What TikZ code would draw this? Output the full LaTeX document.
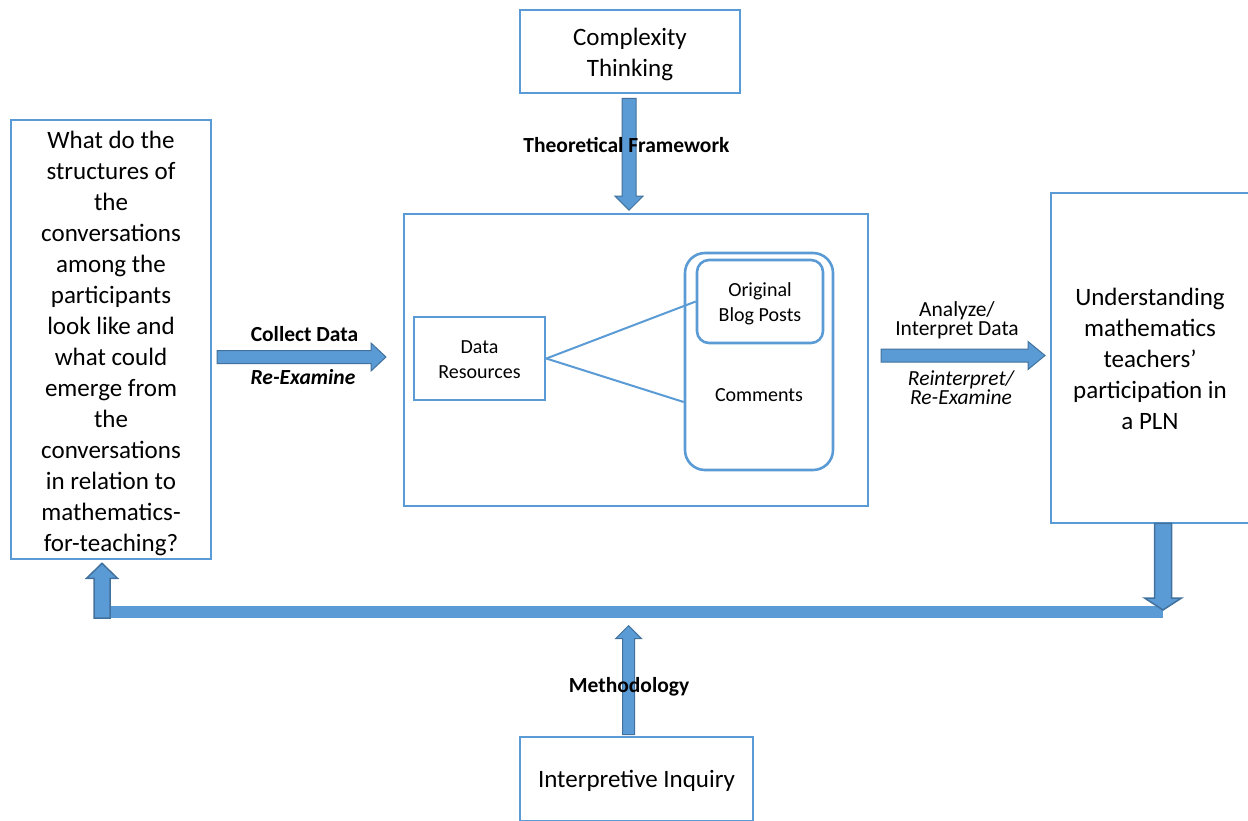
\documentclass[tikz,border=0pt]{standalone}
\usepackage{fontspec}
\setmainfont{Carlito}
\usetikzlibrary{calc}

\definecolor{boxblue}{HTML}{5B9BD5}
\definecolor{arrowedge}{HTML}{41719C}

\tikzset{
  frame/.style={draw=boxblue, line width=2.6pt, inner sep=0pt},
  bigtext/.style={font=\fontsize{25}{31}\selectfont, align=center, inner sep=0pt},
  smalltext/.style={font=\fontsize{20}{24.5}\selectfont, align=center, inner sep=0pt},
  tag/.style={font=\fontsize{21.5}{19}\selectfont, align=center, inner sep=0pt},
  tagbold/.style={tag, font=\fontsize{21.5}{17.5}\selectfont\bfseries},
  tagital/.style={tag, font=\fontsize{21.5}{18}\selectfont\itshape},
  tagboldital/.style={tag, font=\fontsize{21.5}{17.5}\selectfont\bfseries\itshape},
  link/.style={draw=boxblue, line width=2pt},
  barrow/.style={fill=boxblue, draw=arrowedge, line width=1pt, line join=miter},
}

% block arrow: [style]{from}{to}{shaft half width}{head half width}{head length}
\newcommand\blockarrow[6][]{%
  \filldraw[barrow,#1] let \p1=(#2), \p2=(#3),
    \n1={veclen(\x2-\x1,\y2-\y1)}, \n2={atan2(\y2-\y1,\x2-\x1)} in
    [shift={(\p1)}, rotate=\n2]
    (0pt,-#4pt) -- (\n1-#6pt,-#4pt) -- (\n1-#6pt,-#5pt) -- (\n1,0pt)
    -- (\n1-#6pt,#5pt) -- (\n1-#6pt,#4pt) -- (0pt,#4pt) -- cycle;}

\begin{document}
\begin{tikzpicture}[x=1pt,y=-1pt]
\useasboundingbox (0,0) rectangle (1248,820);
\clip (0,0) rectangle (1248,820);

% frames
\node[frame, minimum width=220pt, minimum height=83pt] (ct) at (630,51.5) {};
\node[frame, minimum width=200pt, minimum height=439pt] (rq) at (111,339.5) {};
\node[frame, minimum width=198pt, minimum height=330pt] (un) at (1150,358) {};
\node[frame, minimum width=464pt, minimum height=292pt] (data) at (636,360) {};
\node[frame, minimum width=131pt, minimum height=83pt] (dr) at (479.5,358.5) {};
\node[frame, rounded corners=20pt, minimum width=148pt, minimum height=217pt] (blog) at (759,361.5) {};
\node[frame, rounded corners=12pt, minimum width=126pt, minimum height=83pt] (orig) at (760,301.5) {};
\node[frame, minimum width=233pt, minimum height=84pt] (ii) at (636.5,779) {};

% texts inside the frames
\node[bigtext] (ct-t) at ($(ct.center)+(0,3)$) {Complexity\\Thinking};
\node[bigtext] (rq-t) at ($(rq.center)+(0,3.5)$)
  {What do the\\structures of\\the\\conversations\\among the\\participants\\look like and\\what could\\emerge from\\the\\conversations\\in relation to\\mathematics-\\for-teaching?};
\node[bigtext] (un-t) at ($(un.center)+(0,1)$)
  {Understanding\\mathematics\\teachers'\\participation in\\a PLN};
\node[smalltext] (dr-t) at ($(dr.center)+(0,1)$) {Data\\Resources};
\node[smalltext] (orig-t) at ($(orig.center)+(0,2.5)$) {Original\\Blog Posts};
\node[smalltext] (com) at (759,395) {Comments};
\node[bigtext] (ii-t) at ($(ii.center)+(0,2)$) {Interpretive Inquiry};

% links from the data resources
\draw[link] (dr.east) -- (orig.west);
\draw[link] (dr.east) -- ($(blog.west)+(0,40.5)$);

% guide points for the arrows
\coordinate (tf) at (629,0);
\coordinate (me) at (628.5,0);
\coordinate (cd-s) at (217,357);
\coordinate (cd-e) at (386,357);
\coordinate (ai-s) at (881,355.5);
\coordinate (ai-e) at (1045,355.5);
\coordinate (loop-r) at (1163,612);
\coordinate (loop-l) at (102,612);

% framework and methodology arrows
\blockarrow{$(ct.south -| tf)+(0,4)$}{$(data.north -| tf)+(0,-2.5)$}{7}{14}{14}
\blockarrow{$(ii.north -| me)+(0,-1)$}{$(ii.north -| me)+(0,-110)$}{6}{13}{13}

% horizontal arrows
\blockarrow{cd-s}{cd-e}{6.5}{14}{15}
\blockarrow{ai-s}{ai-e}{6.5}{14}{17}

% feedback loop
\draw[line width=12pt, boxblue] (loop-r) -- ($(loop-l)+(-6,0)$);
\blockarrow[line width=1.5pt]{$(un.south -| loop-r)+(0,-1)$}{$(loop-r)+(0,-2)$}{8.5}{18.5}{12}
\blockarrow[line width=1.5pt]{$(loop-l)+(0,6)$}{$(rq.south -| loop-l)+(0,3)$}{8}{15.5}{15}

% arrow labels
\node[tagbold, anchor=base] (lbl-tf) at (626.5,152) {Theoretical Framework};
\node[tagbold, anchor=base] (lbl-cd) at (304.5,341) {Collect Data};
\node[tagboldital, anchor=base] (lbl-re) at (303,384) {Re-Examine};
\node[tag] (lbl-ai) at (957,320) {Analyze/\\Interpret Data};
\node[tagital] (lbl-ri) at (961,388) {Reinterpret/\\Re-Examine};
\node[tagbold, anchor=base] (lbl-me) at (629,692) {Methodology};
\end{tikzpicture}
\end{document}
